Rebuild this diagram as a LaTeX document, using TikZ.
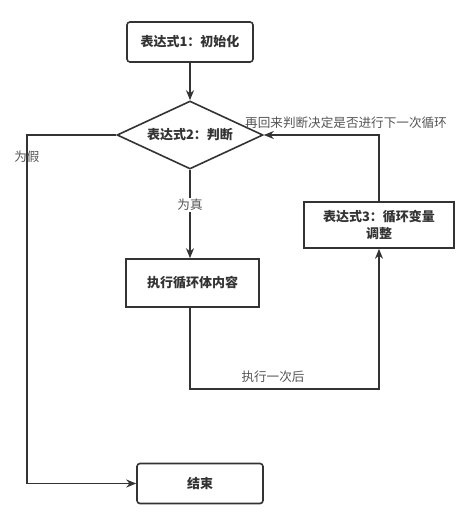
\documentclass[tikz,border=0pt]{standalone}
\usepackage{fontspec}
\setmainfont{Noto Sans CJK SC}
\usetikzlibrary{shapes.geometric,arrows.meta}
\definecolor{ln}{HTML}{333333}
\definecolor{lb}{HTML}{555555}
\begin{document}
\begin{tikzpicture}[x=1pt,y=-1pt,
  every node/.style={font=\fontsize{13}{16}\selectfont\bfseries, text=ln},
  rbox/.style={draw=ln, line width=1.6pt, rounded corners=3pt, minimum width=126pt, minimum height=40pt, inner sep=0pt},
  sbox/.style={draw=ln, line width=1.6pt, minimum width=133pt, minimum height=48pt, inner sep=0pt},
  dec/.style={draw=ln, line width=1.6pt, diamond, aspect=2.15, minimum width=146pt, minimum height=68pt, inner sep=0pt},
  conn/.style={draw=ln, line width=1.6pt},
  arr/.style={conn, -{Stealth[length=10pt,width=8pt]}},
  lab/.style={font=\fontsize{12.6}{14}\selectfont, text=lb, fill=white, inner sep=1pt}]
\useasboundingbox (0,0) rectangle (474,524);
\node[rbox] (init) at (190,42) {表达式1：初始化};
\node[dec] (cond) at (190,135) {表达式2：判断};
\node[sbox] (body) at (192.5,283) {执行循环体内容};
\node[sbox, minimum width=150pt, minimum height=46pt, align=center, font=\fontsize{13}{17}\selectfont\bfseries] (upd) at (379,225) {表达式3：循环变量\\调整};
\node[rbox] (end) at (200,483.5) {结束};
\coordinate (lt) at (27,135);
\coordinate (lb) at (27,483.5);
\coordinate (b1) at (190,389);
\coordinate (b2) at (379,389);
\coordinate (u1) at (379,135);
\draw[arr] (init) -- (cond.north);
\draw[arr] (cond.south) -- node[lab, pos=0.4] {为真} (body.north -| cond.south);
\draw[arr] (cond.west) -- (lt) -- (lb) -- (end.west);
\node[lab, fill=none] (f) at (27,157) {为假};
\draw[arr] (body.south -| b1) -- (b1) -- (b2) -- (upd.south);
\node[lab, fill=none] (once) at (273,377) {执行一次后};
\draw[arr] (upd.north) -- (u1) -- (cond.east);
\node[lab, fill=none, anchor=west] (back) at (244,123) {再回来判断决定是否进行下一次循环};
\end{tikzpicture}
\end{document}
